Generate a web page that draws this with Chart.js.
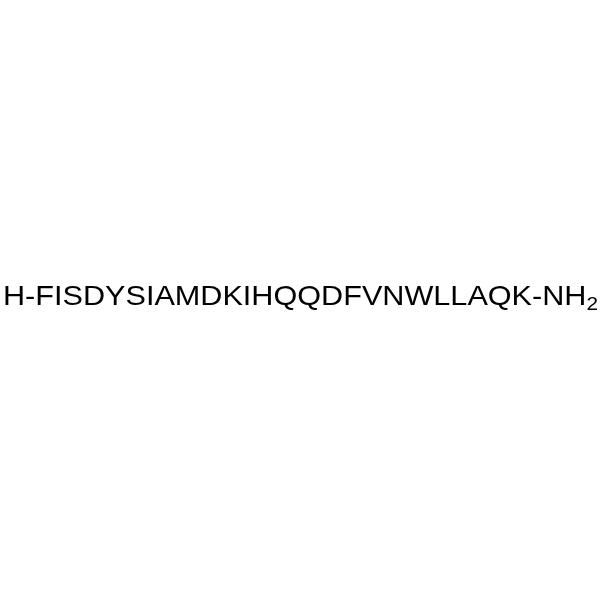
<!DOCTYPE html>
<html>
<head>
<meta charset="utf-8">
<script src="https://cdn.jsdelivr.net/npm/chart.js@4/dist/chart.umd.min.js"></script>
<style>
  html, body { margin: 0; padding: 0; background: #fff; }
  #wrap { width: 600px; height: 600px; }
</style>
</head>
<body>
<div id="wrap"><canvas id="grafico"></canvas></div>
<script>
// Sequência do peptídeo
const nTerminal = 'H';
const residuos = ['F','I','S','D','Y','S','I','A','M','D','K','I','H','Q','Q','D','F','V','N','W','L','L','A','Q','K'];
const cTerminal = 'NH';
const subscrito = '2';

// Plugin que desenha a fórmula esticada na largura da área
const pluginFormula = {
  id: 'formula',
  afterDraw(chart) {
    const ctx = chart.ctx;
    const area = chart.chartArea;
    const principal = nTerminal + '-' + residuos.join('') + '-' + cTerminal;
    const fontePrincipal = "28px 'Liberation Sans', Arial, sans-serif";
    const fonteSub = "19px 'Liberation Sans', Arial, sans-serif";
    ctx.save();
    ctx.fillStyle = '#000';
    ctx.textBaseline = 'alphabetic';
    ctx.font = fontePrincipal;
    const largPrincipal = ctx.measureText(principal).width;
    ctx.font = fonteSub;
    const largSub = ctx.measureText(subscrito).width;
    const total = largPrincipal + largSub;
    const esquerda = area.left + 3;
    const direita = area.right - 2;
    const escala = (direita - esquerda) / total;
    const y = 305;
    ctx.translate(esquerda, 0);
    ctx.scale(escala, 1);
    ctx.font = fontePrincipal;
    ctx.fillText(principal, 0, y);
    ctx.font = fonteSub;
    ctx.fillText(subscrito, largPrincipal, y + 5);
    ctx.restore();
  }
};

new Chart(document.getElementById('grafico').getContext('2d'), {
  type: 'bar',
  data: { labels: [], datasets: [] },
  options: {
    responsive: true,
    maintainAspectRatio: false,
    animation: false,
    layout: { padding: 0 },
    plugins: { legend: { display: false }, tooltip: { enabled: false } },
    scales: { x: { display: false }, y: { display: false } }
  },
  plugins: [pluginFormula]
});
</script>
</body>
</html>
